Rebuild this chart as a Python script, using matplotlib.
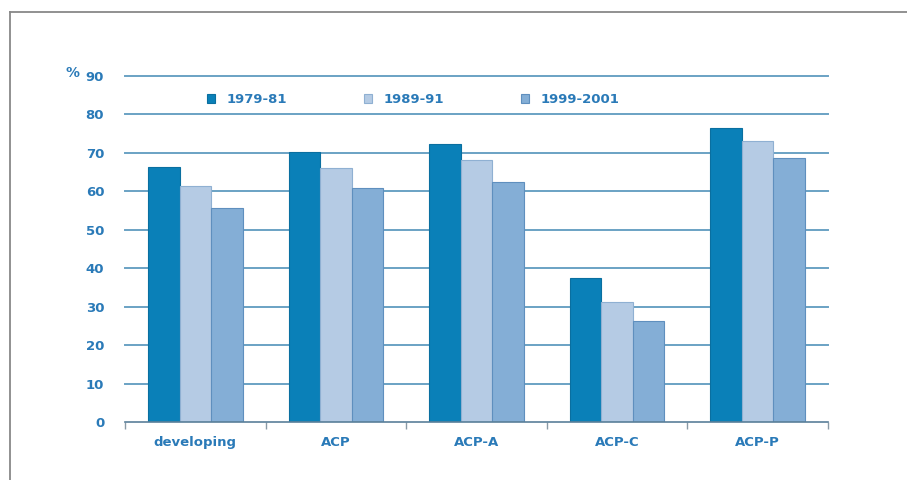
import matplotlib
matplotlib.use("Agg")
import matplotlib.pyplot as plt
import numpy as np

groups = ["developing", "ACP", "ACP-A", "ACP-C", "ACP-P"]
periods = ["1979-81", "1989-91", "1999-2001"]
v_1979 = [66.3, 70.3, 72.3, 37.5, 76.5]
v_1989 = [61.4, 66.1, 68.2, 31.2, 73.1]
v_1999 = [55.7, 60.9, 62.4, 26.3, 68.6]
y_ticks = [0, 10, 20, 30, 40, 50, 60, 70, 80, 90]

colors = ["#0a80b8", "#b5cbe4", "#84aed6"]
edges = ["#0a6fa0", "#8fb0d2", "#5f8fbe"]
text_blue = "#2a7ab8"
grid_blue = "#6aa2c4"

fig = plt.figure(figsize=(9.07, 4.8), dpi=100)

# grey frame around the figure
fig.add_artist(plt.Line2D([10 / 907, 10 / 907], [0, 1 - 12 / 480], color="#888888", lw=1.3))
fig.add_artist(plt.Line2D([10 / 907, 1], [1 - 12 / 480, 1 - 12 / 480], color="#888888", lw=1.3))

ax = fig.add_axes([125 / 907, 1 - 422 / 480, 703 / 907, 346 / 480])
x = np.arange(len(groups))
w = 0.224

for yv in y_ticks[1:]:
    ax.axhline(yv, color=grid_blue, lw=1.4, zorder=0, clip_on=False)

for i, vals in enumerate([v_1979, v_1989, v_1999]):
    ax.bar(x + (i - 1) * w, vals, width=w, color=colors[i], edgecolor=edges[i],
           linewidth=0.8, zorder=2, label=periods[i])

ax.set_xlim(-0.5, len(groups) - 0.5)
ax.set_ylim(0, 90)
for s in ["top", "right", "left"]:
    ax.spines[s].set_visible(False)
ax.spines["bottom"].set_color("#5a7f99")
ax.spines["bottom"].set_linewidth(1.2)

ax.set_xticks(x)
ax.set_xticklabels(groups, color=text_blue, fontsize=9.5, fontweight="bold")
ax.tick_params(axis="x", length=0, pad=10)
ax.set_xticks(np.arange(-0.5, len(groups)), minor=True)
ax.tick_params(axis="x", which="minor", length=5, color="#8a9aa6", width=1)

ax.set_yticks(y_ticks)
ax.set_yticklabels([str(t) for t in y_ticks], color=text_blue, fontsize=9.5, fontweight="bold")
ax.tick_params(axis="y", length=0, pad=15)

fig.text(73 / 907, 1 - 73 / 480, "%", color=text_blue, fontsize=10, fontweight="bold",
         ha="center", va="center")

leg = ax.legend(loc="upper left", bbox_to_anchor=(0.1, 0.985), ncol=3, frameon=False,
                handlelength=0.6, handleheight=0.6, handletextpad=0.9, columnspacing=5.8,
                prop={"size": 9.5, "weight": "bold"})
for t in leg.get_texts():
    t.set_color(text_blue)

fig.savefig("out.png", dpi=100)
